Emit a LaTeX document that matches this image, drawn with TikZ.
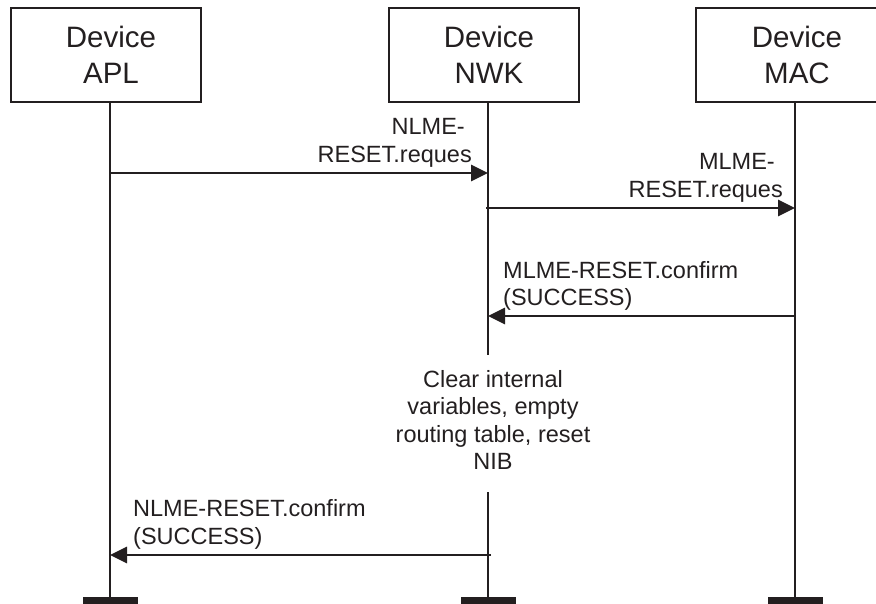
\documentclass[tikz,border=0pt]{standalone}
\usepackage{fontspec}
\setmainfont{Liberation Sans}
\usetikzlibrary{arrows.meta}
\definecolor{ink}{RGB}{35,31,32}
\begin{document}
\begin{tikzpicture}[x=1pt,y=-1pt,
  devbox/.style={draw=ink,line width=1.8pt,minimum width=190pt,minimum height=94pt,inner sep=0pt},
  devname/.style={font=\fontsize{29.5}{36}\selectfont,align=center,text=ink,inner sep=0pt},
  life/.style={draw=ink,line width=1.8pt},
  msg/.style={draw=ink,line width=2.8pt,-{Triangle[length=17pt,width=16pt]}},
  lbl/.style={font=\fontsize{23.5}{27.5}\selectfont,text=ink,inner sep=0pt},
  endbar/.style={fill=ink,minimum width=55pt,minimum height=10pt,inner sep=0pt}
]
\useasboundingbox (0,0) rectangle (876,604);
\clip (0,0) rectangle (876,604);

% device boxes
\node[devbox] (apl) at (106,55) {};
\node[devname] (aplname) at (111,55) {Device\\APL};
\node[devbox] (nwk) at (484,55) {};
\node[devname] (nwkname) at (489,55) {Device\\NWK};
\node[devbox] (mac) at (791,55) {};
\node[devname] (macname) at (797,55) {Device\\MAC};

% lifeline coordinates
\coordinate (aplBot) at (110,600);
\coordinate (nwkGapA) at (488,355);
\coordinate (nwkGapB) at (488,492);
\coordinate (nwkBot) at (488,600);
\coordinate (macBot) at (795,600);

\draw[life] (apl.south -| aplBot) -- (aplBot);
\draw[life] (nwk.south -| nwkBot) -- (nwkGapA);
\draw[life] (nwkGapB) -- (nwkBot);
\draw[life] (mac.south -| macBot) -- (macBot);

% end bars
\node[endbar] (aplbar) at (110.5,601.5) {};
\node[endbar] (nwkbar) at (488.5,601.5) {};
\node[endbar] (macbar) at (795.5,601.5) {};

% message coordinates
\coordinate (m1a) at (110,173);
\coordinate (m1b) at (488,173);
\coordinate (m2a) at (486,208);
\coordinate (m2b) at (795,208);
\coordinate (m3a) at (796,316);
\coordinate (m3b) at (488,316);
\coordinate (m4a) at (491,555);
\coordinate (m4b) at (110,555);

\draw[msg] (m1a) -- (m1b);
\draw[msg] (m2a) -- (m2b);
\draw[msg] (m3a) -- (m3b);
\draw[msg] (m4a) -- (m4b);

% labels
\node[lbl,align=right,anchor=north east] (l1) at (472,118.5) {NLME-\hspace*{7pt}\\RESET.reques};
\node[lbl,align=right,anchor=north east] (l2) at (783,153.5) {MLME-\hspace*{8pt}\\RESET.reques};
\node[lbl,align=left,anchor=north west] (l3) at (503,261) {MLME-RESET.confirm\\(SUCCESS)};
\node[lbl,align=center,anchor=north] (note) at (493,370) {Clear internal\\variables, empty\\routing table, reset\\NIB};
\node[lbl,align=left,anchor=north west] (l4) at (133,499.5) {NLME-RESET.confirm\\(SUCCESS)};
\end{tikzpicture}
\end{document}
